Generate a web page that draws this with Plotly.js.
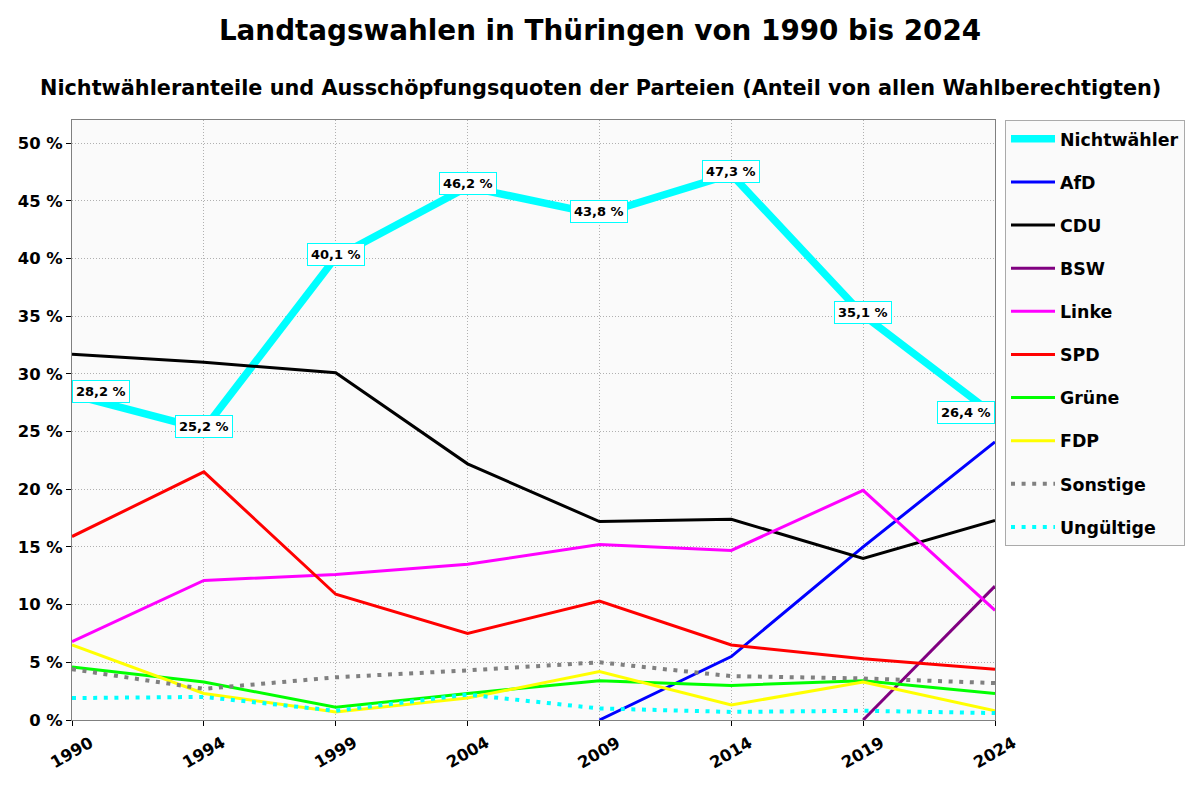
<!DOCTYPE html>
<html><head><meta charset="utf-8">
<script src="https://cdn.plot.ly/plotly-3.0.1.min.js"></script>
<style>body{margin:0;background:#fff}#c{width:1200px;height:800px}</style>
</head><body><div id="c"></div>
<script>
const years = ["1990","1994","1999","2004","2009","2014","2019","2024"];
const nichtwaehler = [28.2,25.2,40.1,46.2,43.8,47.3,35.1,26.4];
const nichtwaehlerLabels = ["28,2 %","25,2 %","40,1 %","46,2 %","43,8 %","47,3 %","35,1 %","26,4 %"];
const afd = [null,null,null,null,0,5.5,15.0,24.1];
const cdu = [31.7,31.0,30.1,22.2,17.2,17.4,14.0,17.3];
const bsw = [null,null,null,null,null,null,0,11.6];
const linke = [6.8,12.1,12.6,13.5,15.2,14.7,19.9,9.5];
const spd = [15.9,21.5,10.9,7.5,10.3,6.5,5.3,4.4];
const gruene = [4.6,3.3,1.1,2.3,3.4,3.0,3.4,2.3];
const fdp = [6.5,2.3,0.7,1.9,4.2,1.3,3.3,0.8];
const sonstige = [4.4,2.7,3.7,4.3,5.0,3.8,3.6,3.2];
const ungueltige = [1.9,2.0,0.8,2.2,1.0,0.7,0.8,0.6];

const F = "DejaVu Sans, sans-serif";
const dotted = "4px,6.6px";
function tr(name, y, color, width, dash){
  return {x: years, y: y, name: name, type:'scatter', mode:'lines',
    line:{color:color, width:width, dash: dash||'solid'}, legendgroup:name,
    connectgaps:false, hoverinfo:'skip'};
}
const data = [
  tr("Nichtwähler", nichtwaehler, "#00ffff", 7.5),
  tr("AfD", afd, "#0000ff", 3),
  tr("CDU", cdu, "#000000", 3),
  tr("BSW", bsw, "#800080", 3),
  tr("Linke", linke, "#ff00ff", 3),
  tr("SPD", spd, "#ff0000", 3),
  tr("Grüne", gruene, "#00ff00", 3),
  tr("FDP", fdp, "#ffff00", 3),
  tr("Sonstige", sonstige, "#808080", 4, dotted),
  tr("Ungültige", ungueltige, "#00ffff", 4, dotted)
];

const annotations = years.map((yr,i)=>({
  x: i, y: nichtwaehler[i], xref:'x', yref:'y', text: nichtwaehlerLabels[i],
  showarrow:false, xanchor: i===0 ? 'left' : (i===years.length-1 ? 'right' : 'center'),
  yanchor:'middle', yshift:3,
  font:{family:F, size:13, color:'#000', weight:'bold'},
  bgcolor:'#ffffff', bordercolor:'#00ffff', borderwidth:1, borderpad:3
}));
years.forEach((yr,i)=>annotations.push({
  x: i, y: 0, xref:'x', yref:'paper', text: yr, showarrow:false, textangle:-30,
  xanchor:'center', yanchor:'top', yshift:-10,
  font:{family:F, size:16.4, color:'#000', weight:'bold'}
}));
annotations.push({
  text:"Nichtwähleranteile und Ausschöpfungsquoten der Parteien (Anteil von allen Wahlberechtigten)",
  xref:'paper', yref:'paper', x:(600-72)/923, y:1+32/600, xanchor:'center', yanchor:'middle',
  showarrow:false, font:{family:F, size:20.8, color:'#000', weight:'bold'}
});

const grid = '1px,2px';
const layout = {
  width:1200, height:800,
  paper_bgcolor:'#ffffff', plot_bgcolor:'#fafafa',
  margin:{l:72, r:205, t:120, b:80},
  title:{text:"Landtagswahlen in Thüringen von 1990 bis 2024", x:0.5, xref:'container', xanchor:'center',
    y:1-30/800, yref:'container', yanchor:'middle',
    font:{family:F, size:27.8, color:'#000', weight:'bold'}},
  xaxis:{type:'category', range:[0,7], showgrid:true, gridcolor:'#b0b0b0', griddash:grid, gridwidth:1,
    showline:true, linecolor:'#808080', linewidth:1, mirror:true,
    ticks:'outside', ticklen:5, tickcolor:'#000', showticklabels:false, zeroline:false, fixedrange:true},
  yaxis:{range:[0,52], dtick:5, ticksuffix:' %', showgrid:true, gridcolor:'#b0b0b0', griddash:grid, gridwidth:1,
    showline:true, linecolor:'#808080', linewidth:1, mirror:true,
    ticks:'outside', ticklen:5, tickcolor:'#000',
    tickfont:{family:F, size:16.4, color:'#000', weight:'bold'}, zeroline:false, fixedrange:true},
  legend:{x:1+10/923, xanchor:'left', y:1, yanchor:'top', bgcolor:'#fafafa', bordercolor:'#aaaaaa', borderwidth:1,
    font:{family:F, size:17.4, color:'#000', weight:'bold'}, tracegroupgap:17.5, itemwidth:44},
  annotations: annotations,
  showlegend:true
};
Plotly.newPlot('c', data, layout, {displayModeBar:false, staticPlot:true});
</script></body></html>
